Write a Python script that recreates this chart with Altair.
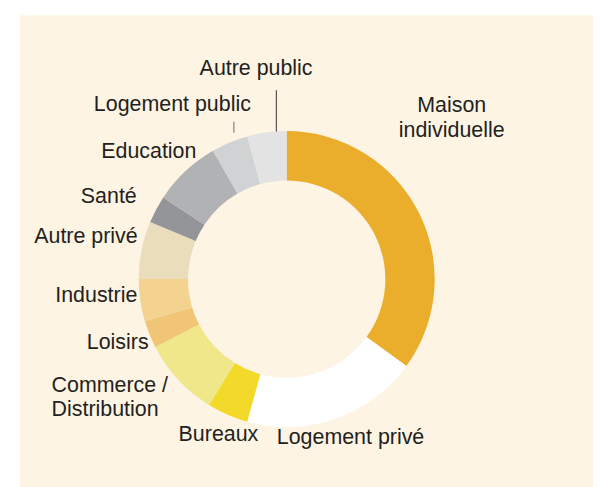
import altair as alt
import pandas as pd

categories = ["Maison individuelle", "Logement privé", "Bureaux", "Commerce / Distribution",
              "Loisirs", "Industrie", "Autre privé", "Santé", "Education",
              "Logement public", "Autre public"]
values = [35.0, 19.3, 4.5, 8.6, 3.0, 4.6, 6.3, 3.0, 7.4, 4.0, 4.3]
label_texts = ["Maison\nindividuelle", "Logement privé", "Bureaux", "Commerce /\nDistribution",
               "Loisirs", "Industrie", "Autre privé", "Santé", "Education",
               "Logement public", "Autre public"]

# ---- styles / layout ----
colors = ["#EBAE2C", "#FFFFFF", "#F3DA2A", "#F0E68A", "#F0C676", "#F3D38F",
          "#E9DDBC", "#949598", "#B1B2B4", "#D1D2D4", "#E3E3E3"]
BG = "#FDF4E3"
TXT = "#231F20"
FONT = "Liberation Sans"
CX, CY = 270.5, 267.5          # donut centre inside the plot area
R_OUT, R_IN = 150, 100
# label placement: (radius, dx, dy, align) relative to each slice's mid-angle
label_layout = {
    "Maison individuelle": (190, -2, -83, "center"),
    "Logement privé": (175, 7, 2, "center"),
    "Bureaux": (178, 2, 1, "center"),
    "Commerce / Distribution": (175, -110, -5, "left"),
    "Loisirs": (152, 1, 14, "right"),
    "Industrie": (152, -1, 1, "right"),
    "Autre privé": (152, -2, -7, "right"),
    "Santé": (170, -2, 3, "right"),
    "Education": (160, 18, -6, "right"),
    "Logement public": (185, 35, 0, "right"),
    "Autre public": (208, -3, -1, "center"),
}

df = pd.DataFrame({
    "cat": categories,
    "value": values,
    "label": label_texts,
    "idx": list(range(len(categories))),
})

base = alt.Chart(df).encode(
    theta=alt.Theta("value:Q", stack=True),
    order=alt.Order("idx:Q"),
)

arcs = base.mark_arc(innerRadius=R_IN, outerRadius=R_OUT).encode(
    x=alt.value(CX), y=alt.value(CY),
    color=alt.Color("cat:N", scale=alt.Scale(domain=categories, range=colors), legend=None),
)

layers = [arcs]
for cat in categories:
    r, dx, dy, align = label_layout[cat]
    layers.append(
        base.mark_text(radius=r, dx=dx, dy=dy, align=align, baseline="alphabetic",
                       font=FONT, fontSize=21.7, color=TXT, lineBreak="\n", lineHeight=25)
        .encode(
            x=alt.value(CX), y=alt.value(CY),
            text=alt.condition(alt.datum.cat == cat, alt.Text("label:N"), alt.value("")),
        )
    )

one = pd.DataFrame({"k": [0]})
leader = alt.Chart(one).mark_rule(color="#333333", strokeWidth=1).encode(
    x=alt.value(260), y=alt.value(76), y2=alt.value(118))
tick = alt.Chart(one).mark_rule(color="#666666", strokeWidth=1).encode(
    x=alt.value(217), y=alt.value(108), y2=alt.value(119))
layers += [leader, tick]

chart = alt.layer(*layers).properties(
    width=581, height=479,
    padding={"left": 12, "top": 4, "right": 0, "bottom": 0},
    autosize=alt.AutoSizeParams(type="none"),
    background="#FFFFFF",
).configure_view(fill=BG, stroke=None)

chart.save("out.html", embed_options={"renderer": "svg", "actions": False})
